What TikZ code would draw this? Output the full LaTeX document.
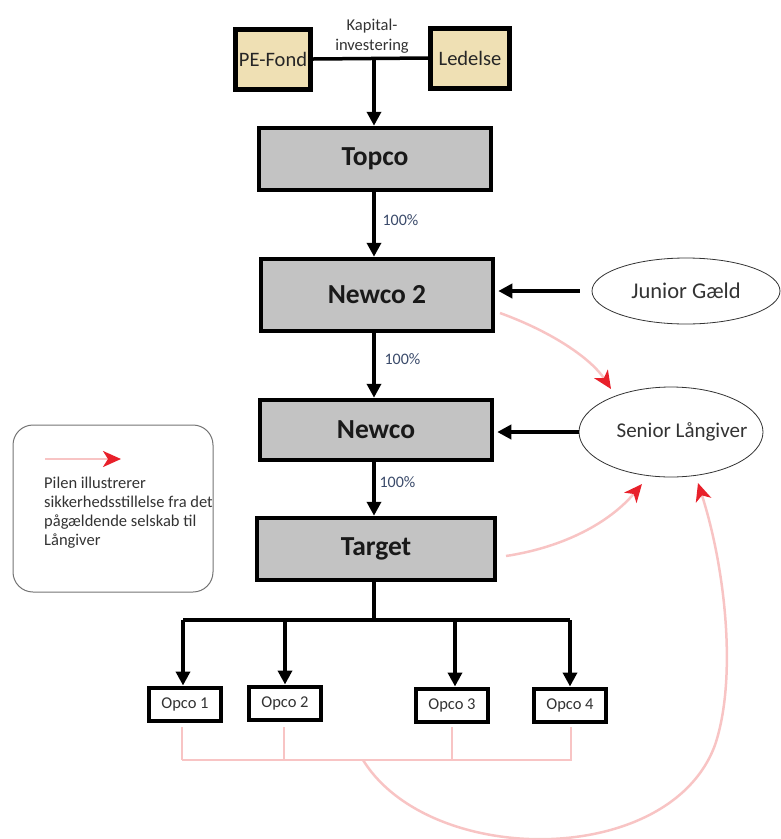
\documentclass[tikz,border=0pt]{standalone}
\usepackage{fontspec}
\setmainfont{Carlito}
\usetikzlibrary{arrows.meta,shapes.geometric}
\definecolor{tanfill}{HTML}{EFE0B4}
\definecolor{boxgray}{HTML}{C3C3C3}
\definecolor{pinkline}{HTML}{F8C4C4}
\definecolor{redhead}{HTML}{E8202A}
\definecolor{pcttext}{HTML}{3A4A6A}
\begin{document}
\begin{tikzpicture}[x=1pt,y=-1pt,
  ownerbox/.style={draw=black, line width=5pt, fill=tanfill, inner sep=0pt, font=\fontsize{20.5}{24}\selectfont, text=black!85},
  bigbox/.style={draw=black, line width=4.5pt, fill=boxgray, inner sep=0pt, minimum width=232pt, font=\fontsize{27.5}{32}\selectfont\bfseries, text=black!90},
  opcobox/.style={draw=black, line width=4pt, fill=white, inner sep=0pt, minimum width=72pt, minimum height=33pt, font=\fontsize{16.5}{19}\selectfont, text=black!80},
  lender/.style={ellipse, draw=black!80, line width=0.8pt, fill=white, inner sep=0pt},
  own/.style={line width=3.5pt, -{Triangle[length=14pt,width=14pt]}},
  bar/.style={line width=3.5pt},
  pctlabel/.style={font=\fontsize{16}{18}\selectfont, text=pcttext, anchor=west},
  security/.style={pinkline, line width=2.5pt, -{Stealth[length=18pt,width=16pt,inset=5pt,color=redhead]}},
  securitybar/.style={pinkline, line width=2.5pt},
]
\useasboundingbox (0,0) rectangle (781,839);

% owners
\node[ownerbox, minimum width=75pt, minimum height=60pt] (pe) at (273,59) {PE-Fond};
\node[ownerbox, minimum width=79pt, minimum height=60pt] (led) at (470,58) {Ledelse};
\node[font=\fontsize{16.5}{19.5}\selectfont, text=black!80, align=center] (kap) at (372,36) {Kapital-\\investering};
\coordinate (kj) at (374,59);

% main column
\node[bigbox, minimum height=62pt] (topco) at (375,159) {Topco};
\node[bigbox, minimum height=72pt] (newco2) at (377,295) {Newco 2};
\node[bigbox, minimum height=60pt] (newco) at (376,430) {Newco};
\node[bigbox, minimum height=62pt, minimum width=238pt] (target) at (376,549) {Target};

% opcos
\node[opcobox] (o1) at (185,704) {Opco 1};
\node[opcobox] (o2) at (285,703) {\raisebox{2pt}{Opco 2}};
\node[opcobox] (o3) at (452,705) {Opco 3};
\node[opcobox] (o4) at (570,705) {Opco 4};

% lenders
\node[lender, minimum width=188pt, minimum height=66pt, font=\fontsize{22.5}{26}\selectfont, text=black!80] (junior) at (686,291) {Junior Gæld};
\node[lender, minimum width=184pt, minimum height=90pt, font=\fontsize{21}{24}\selectfont, text=black!80] (senior) at (671,432) {\makebox[120pt][c]{\hspace*{22pt}Senior Långiver}};

% capital connections
\draw[bar] (pe.east) -- (led.west);
\draw[own] (kj) -- (kj |- topco.north);
\draw[own] (topco.south -| kj) -- (newco2.north -| kj);
\node[pctlabel] (p1) at (379,220) {100\%};
\draw[own] (newco2.south -| kj) -- (newco.north -| kj);
\node[pctlabel] (p2) at (381,359) {100\%};
\draw[own] (newco.south -| kj) -- (target.north -| kj);
\node[pctlabel] (p3) at (376,482) {100\%};

% target to opcos
\coordinate (tj) at (374,620);
\coordinate (tl) at (183,620);
\coordinate (tr) at (570,620);
\draw[bar] (target.south -| tj) -- (tj);
\draw[bar] (tl) -- (tr);
\draw[own] (tl) -- (o1.north -| tl);
\draw[own] (285,620) -- (o2.north);
\draw[own] (455,620) -- (o3.north -| 455,0);
\draw[own] (tr) -- (o4.north -| tr);

% debt arrows
\draw[own, shorten <=12pt, shorten >=3pt] (junior.west) -- (newco2.east |- junior.west);
\draw[own, shorten >=3pt] (senior.west) -- (newco.east |- senior.west);

% security arrows
\coordinate (s1a) at (500,313);
\coordinate (s1b) at (611,389);
\draw[security] (s1a) .. controls (555,333) and (592,360) .. (s1b);
\coordinate (s2a) at (506,556);
\coordinate (s2b) at (642,484);
\draw[security] (s2a) .. controls (565,547) and (610,522) .. (s2b);

% opco security bus
\coordinate (b1) at (182,760);
\coordinate (b4) at (572,760);
\coordinate (bm) at (363,760);
\draw[securitybar] (b1) -- (b4);
\draw[securitybar] (182,727) -- (b1);
\draw[securitybar] (284,727) -- (284,760);
\draw[securitybar] (452,727) -- (452,760);
\draw[securitybar] (571,727) -- (571,760);
\coordinate (s3b) at (698,483);
\draw[security] (bm) .. controls (430,868) and (670,868) .. (715,745) .. controls (737,680) and (726,570) .. (s3b);

% legend
\node[draw=black!55, line width=1pt, rounded corners=20pt, minimum width=200pt, minimum height=167pt, inner sep=0pt] (legend) at (113,508.5) {};
\coordinate (la) at (45,459);
\coordinate (lb) at (121,459);
\draw[security] (la) -- (lb);
\node[anchor=north west, align=left, font=\fontsize{16.5}{19}\selectfont, text=black!80, inner sep=0pt] (ltext) at (44,477) {Pilen illustrerer\\sikkerhedsstillelse fra det\\pågældende selskab til\\Långiver};
\end{tikzpicture}
\end{document}
